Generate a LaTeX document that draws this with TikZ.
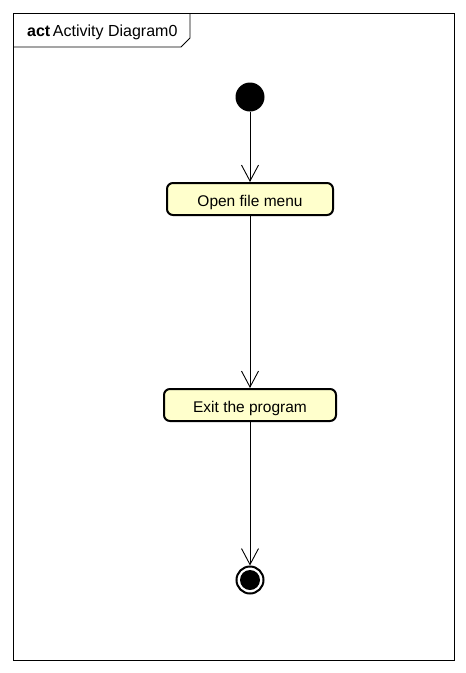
\documentclass[tikz,border=0pt]{standalone}
\usepackage{fontspec}
\setmainfont{Liberation Sans}
\usetikzlibrary{arrows.meta}
\definecolor{actfill}{RGB}{255,255,204}
\begin{document}
\begin{tikzpicture}[x=1pt,y=-1pt,
  action/.style={draw=black,line width=2pt,fill=actfill,rounded corners=6pt,inner sep=0pt,text height=14pt,text depth=0pt,font=\fontsize{15.5}{17}\selectfont},
  flow/.style={draw=black,line width=0.9pt,-{Straight Barb[length=16pt,width=17pt,line width=0.9pt]}},
]
\useasboundingbox (0,0) rectangle (466,673);
\fill[white] (0,0) rectangle (466,673);
% frame
\draw[line width=0.9pt] (13,13) rectangle (454,660);
\draw[line width=0.9pt] (13,47) -- (181,47) -- (190,38) -- (190,13);
\node[anchor=west,inner sep=0pt,font=\fontsize{16}{18}\selectfont] (title) at (27,32) {\textbf{act}\,Activity Diagram0};
% start
\node[circle,fill=black,minimum size=29pt,inner sep=0pt] (start) at (250,97) {};
% actions
\node[action,minimum width=166pt,minimum height=32pt] (open) at (250,199) {Open file menu};
\node[action,minimum width=172pt,minimum height=32pt] (exit) at (250,405) {Exit the program};
% end
\node[circle,draw=black,line width=2pt,fill=white,minimum size=27pt,inner sep=0pt] (final) at (250,580) {};
\node[circle,fill=black,minimum size=20pt,inner sep=0pt] (finalin) at (250,580) {};
% flows
\draw[flow] (start) -- (open);
\draw[flow] (open) -- (exit);
\draw[flow] (exit) -- (final);
\end{tikzpicture}
\end{document}
